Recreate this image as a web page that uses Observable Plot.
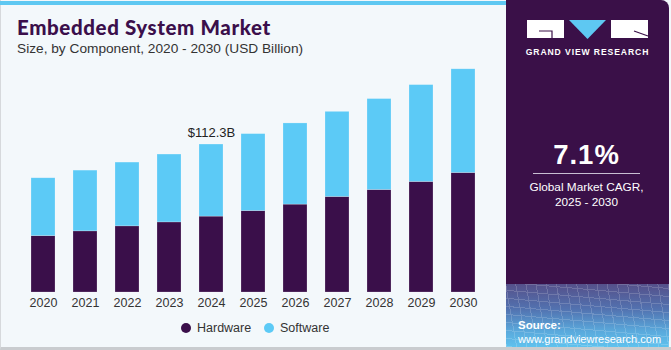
<!DOCTYPE html>
<html>
<head>
<meta charset="utf-8">
<script src="https://cdn.jsdelivr.net/npm/d3@7"></script>
<script src="https://cdn.jsdelivr.net/npm/@observablehq/plot@0.6"></script>
<style>
  html, body { margin: 0; padding: 0; }
  body { width: 671px; height: 350px; overflow: hidden; font-family: "Liberation Sans", Arial, sans-serif; }
  #frame { position: absolute; left: 0; top: 0; width: 671px; height: 350px; background: #f3f8fb; box-sizing: border-box; border-left: 1px solid #d6d9dc; border-bottom: 3px solid #c9cccf; }
  #stripe { position: absolute; left: 0; top: 1px; width: 506px; height: 4px; background: #5ec8f2; }
  #title { position: absolute; left: 17px; top: 15px; font-family: "Lato", sans-serif; font-weight: 900; font-size: 20.5px; color: #3b0f4b; letter-spacing: 0.6px; }
  #subtitle { position: absolute; left: 17px; top: 41px; font-size: 13.7px; color: #333; }
  #chart { position: absolute; left: 0; top: 60px; }
  #panel { position: absolute; left: 506px; top: 0; width: 163px; height: 284px; background: #3a1048; border-top-right-radius: 8px; }
  #source { position: absolute; left: 506px; top: 284px; width: 163px; height: 63px;
    background: linear-gradient(180deg, #55508a 0%, #5272b0 40%, #5aa9dc 75%, #5fc2ee 100%); overflow: hidden; }
  #source .grid { position: absolute; inset: 0; opacity: 0.16;
    background-image: repeating-linear-gradient(80deg, #fff 0 1px, transparent 1px 10px), repeating-linear-gradient(5deg, #fff 0 1px, transparent 1px 8px); }
  #source .t1 { position: absolute; left: 12px; top: 35px; color: #fff; font-weight: bold; font-size: 11.5px; }
  #source .t2 { position: absolute; left: 12px; top: 49px; color: #fff; font-size: 11px; }
  .legend { position: absolute; top: 321px; font-size: 12.5px; color: #333; display: flex; align-items: center; }
  .legend span.sw { display: inline-block; width: 10px; height: 10px; border-radius: 50%; margin-right: 6px; }
</style>
</head>
<body>
<div id="frame"></div>
<div id="stripe"></div>
<div id="title">Embedded System Market</div>
<div id="subtitle">Size, by Component, 2020 - 2030 (USD Billion)</div>
<div id="chart"></div>
<div id="legend"></div>
<div id="panel">
  <svg width="163" height="284" style="position:absolute;left:0;top:0">
    <rect x="21" y="20" width="37" height="18" fill="#fff"/>
    <path d="M 33 31 L 46 31 L 46 38" stroke="#3a1048" stroke-width="1.2" fill="none"/>
    <polygon points="63,20 100,20 81.5,39" fill="#5ec8f2"/>
    <rect x="105" y="20" width="37" height="18" fill="#fff"/>
    <path d="M 128 31 L 142 36" stroke="#3a1048" stroke-width="1.2" fill="none"/>
    <text x="81.5" y="54.5" text-anchor="middle" fill="#fff" font-family="Liberation Sans, Arial" font-weight="bold" font-size="8.6" letter-spacing="0.9">GRAND VIEW RESEARCH</text>
    <text x="80.5" y="164" text-anchor="middle" fill="#fff" font-family="Liberation Sans, Arial" font-weight="bold" font-size="27.5" letter-spacing="1">7.1%</text>
    <line x1="27" x2="134" y1="173.5" y2="173.5" stroke="#c9bfd3" stroke-width="1.2"/>
    <text x="80.5" y="190.5" text-anchor="middle" fill="#fff" font-family="Liberation Sans, Arial" font-size="11.8">Global Market CAGR,</text>
    <text x="80.5" y="205.5" text-anchor="middle" fill="#fff" font-family="Liberation Sans, Arial" font-size="11.8">2025 - 2030</text>
  </svg>
</div>
<div id="source"><div class="grid"></div><div class="t1">Source:</div><div class="t2">www.grandviewresearch.com</div></div>
<script>
const years = ["2020","2021","2022","2023","2024","2025","2026","2027","2028","2029","2030"];
const hardware = [42.8, 46.4, 50.2, 53.2, 57.6, 61.8, 66.7, 72.5, 77.8, 83.9, 90.7];
const software = [43.9, 46.1, 48.4, 51.5, 54.7, 58.4, 61.6, 64.6, 69.0, 73.5, 78.7];
const seriesNames = ["Hardware", "Software"];
const seriesColors = ["#3a0f4a", "#5ccaf6"];
const annotationYear = "2024";
const annotationText = "$112.3B";

const rows = [];
years.forEach((y, i) => {
  rows.push({year: y, component: "Hardware", value: hardware[i]});
  rows.push({year: y, component: "Software", value: software[i]});
});
const totals = years.map((y, i) => ({year: y, total: hardware[i] + software[i]}));

const chart = Plot.plot({
  width: 500,
  height: 255,
  marginLeft: 13,
  marginRight: 7,
  marginTop: 8,
  marginBottom: 23,
  style: {background: "transparent", fontFamily: "Liberation Sans, Arial, sans-serif"},
  x: {domain: years, range: [13, 493], paddingInner: 0.4286, paddingOuter: 0.4286, align: 0.5, round: false, label: null, tickSize: 0, tickPadding: 6},
  y: {domain: [0, 170], axis: null},
  color: {domain: seriesNames, range: seriesColors},
  marks: [
    Plot.barY(rows, Plot.stackY({x: "year", y: "value", fill: "component", order: seriesNames, stroke: "#ffffff", strokeOpacity: 0.35, strokeWidth: 0.6})),
    Plot.text(totals.filter(d => d.year === annotationYear), {x: "year", y: "total", text: () => annotationText, dy: -8, lineAnchor: "bottom", fontSize: 13, fill: "#222"}),
  ]
});
const xAxis = chart.querySelector('g[aria-label="x-axis tick label"]');
if (xAxis) { xAxis.setAttribute("font-size", "12.5"); xAxis.setAttribute("fill", "#333"); }
document.getElementById("chart").appendChild(chart);

const lg = document.getElementById("legend");
const legendX = [181, 264];
seriesNames.forEach((n, i) => {
  const d = document.createElement("div");
  d.className = "legend";
  d.style.left = legendX[i] + "px";
  d.innerHTML = `<span class="sw" style="background:${seriesColors[i]}"></span>${n}`;
  lg.appendChild(d);
});
</script>
</body>
</html>
